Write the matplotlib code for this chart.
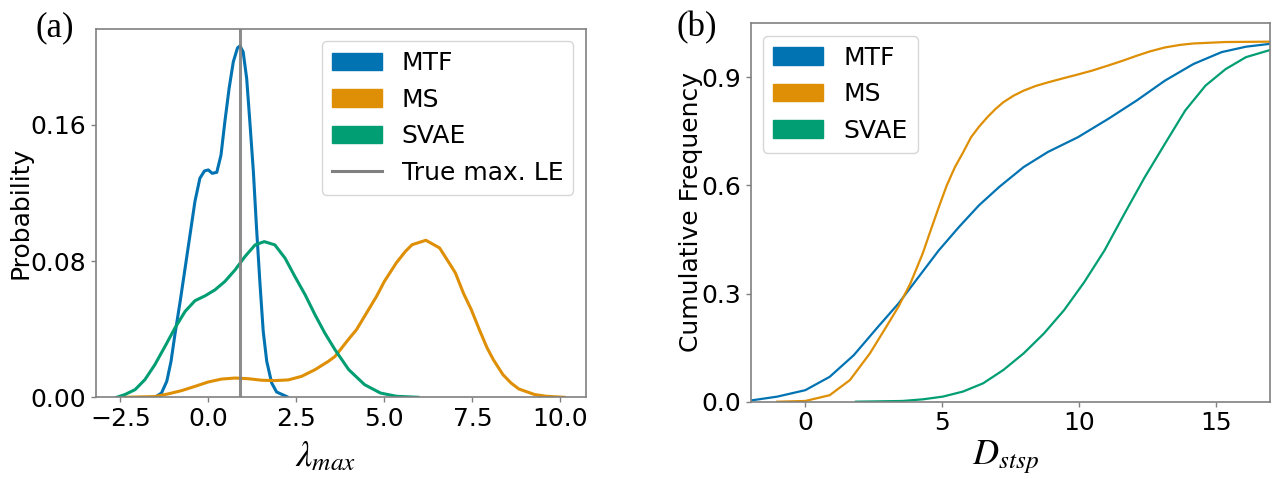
import numpy as np
import matplotlib
matplotlib.use('Agg')
import matplotlib.pyplot as plt
from matplotlib.patches import Patch
from matplotlib.lines import Line2D

plt.rcParams['font.family'] = 'DejaVu Sans'
plt.rcParams['mathtext.fontset'] = 'stix'

methods = ['MTF', 'MS', 'SVAE']
colors = ['#0173b2', '#de8f05', '#029e73']
true_le = 0.9

# (a) density of the estimated max. Lyapunov exponent
mtf_x = [-1.515, -1.33, -1.18, -1.06, -0.95, -0.80, -0.66, -0.52, -0.38, -0.24, -0.11,
         0.0, 0.11, 0.24, 0.36, 0.47, 0.59, 0.71, 0.83, 0.90, 0.99, 1.09, 1.18, 1.28,
         1.37, 1.47, 1.56, 1.66, 1.80, 1.94, 2.23]
mtf_p = [0.0, 0.0025, 0.0094, 0.021, 0.0367, 0.0563, 0.0758, 0.0954, 0.115, 0.1286,
         0.1329, 0.1335, 0.1315, 0.1321, 0.1422, 0.1618, 0.1813, 0.197, 0.2052, 0.2063,
         0.2028, 0.1872, 0.1618, 0.1325, 0.0993, 0.066, 0.0387, 0.0211, 0.0084, 0.0031,
         0.0004]

ms_x = [-2.4, -1.52, -1.14, -0.76, -0.38, 0.0, 0.38, 0.76, 1.14, 1.52, 1.89, 2.27,
        2.65, 3.03, 3.41, 3.60, 4.0, 4.21, 4.78, 5.0, 5.34, 5.6, 5.79, 6.18, 6.57, 6.9,
        7.02, 7.25, 7.47, 7.7, 7.92, 8.1, 8.37, 8.6, 8.82, 9.27, 9.6, 10.11]
ms_p = [0.0, 0.0004, 0.002, 0.0039, 0.0064, 0.009, 0.0107, 0.0113, 0.0109, 0.0100,
        0.0098, 0.0102, 0.0123, 0.0162, 0.0211, 0.024, 0.0345, 0.0397, 0.0593, 0.068,
        0.0789, 0.0857, 0.0896, 0.0922, 0.0877, 0.077, 0.073, 0.061, 0.0515, 0.0397,
        0.029, 0.022, 0.0133, 0.0084, 0.0049, 0.0016, 0.0006, 0.0]

svae_x = [-2.60, -2.37, -2.08, -1.80, -1.52, -1.23, -0.95, -0.66, -0.38, -0.09, 0.19,
          0.47, 0.76, 1.04, 1.33, 1.59, 1.89, 2.18, 2.46, 2.75, 3.03, 3.31, 3.60, 3.99,
          4.44, 4.89, 5.34, 5.96]
svae_p = [0.0, 0.0016, 0.0045, 0.0104, 0.0191, 0.0299, 0.0406, 0.0504, 0.0567, 0.0596,
          0.0631, 0.068, 0.0748, 0.0826, 0.0895, 0.0914, 0.0895, 0.0817, 0.0709, 0.0602,
          0.0485, 0.0377, 0.0279, 0.0162, 0.0074, 0.0025, 0.0006, 0.0]

# (b) cumulative frequency of D_stsp
mtf_d = [-2.3, -1.03, 0.0, 0.89, 1.77, 2.66, 3.4, 4.14, 4.88, 5.62, 6.35, 7.09, 7.98,
         8.87, 9.97, 11.08, 12.12, 13.15, 14.19, 15.22, 16.11, 17.0]
mtf_c = [0.0, 0.014, 0.032, 0.069, 0.129, 0.208, 0.272, 0.346, 0.42, 0.485, 0.545,
         0.596, 0.651, 0.693, 0.734, 0.785, 0.836, 0.891, 0.937, 0.970, 0.985, 0.993]

ms_d = [-1.03, 0.0, 0.89, 1.63, 2.36, 2.96, 3.4, 3.84, 4.29, 4.58, 4.88, 5.17, 5.47,
        5.77, 6.06, 6.35, 6.65, 6.95, 7.24, 7.61, 7.98, 8.42, 8.87, 9.46, 9.97, 10.5,
        11.08, 11.6, 12.12, 12.6, 13.15, 13.7, 14.19, 15.37, 17.0]
ms_c = [0.0, 0.002, 0.018, 0.06, 0.134, 0.208, 0.263, 0.328, 0.411, 0.475, 0.54, 0.60,
        0.651, 0.692, 0.734, 0.763, 0.789, 0.812, 0.831, 0.849, 0.863, 0.876, 0.886,
        0.898, 0.908, 0.919, 0.933, 0.946, 0.960, 0.972, 0.983, 0.99, 0.994, 0.998, 0.999]

svae_d = [1.85, 3.55, 4.29, 5.02, 5.76, 6.50, 7.24, 7.98, 8.72, 9.46, 10.2, 10.94,
          11.67, 12.41, 13.15, 13.89, 14.63, 15.37, 16.11, 17.0]
svae_c = [0.0, 0.002, 0.0065, 0.014, 0.028, 0.051, 0.088, 0.134, 0.189, 0.254, 0.332,
          0.42, 0.522, 0.623, 0.716, 0.808, 0.877, 0.923, 0.956, 0.976]

fs = 18
fig = plt.figure(figsize=(12.74, 4.79), dpi=100)
ax1 = fig.add_axes([0.0751, 0.1706, 0.3846, 0.769])
ax2 = fig.add_axes([0.5892, 0.1614, 0.4079, 0.790])

for ax in (ax1, ax2):
    for s in ax.spines.values():
        s.set_color('#808080')
        s.set_linewidth(1.2)
    ax.tick_params(labelsize=fs, color='#808080', length=3.5, width=1.0)

# left panel
for xs, ps, c in zip([mtf_x, ms_x, svae_x], [mtf_p, ms_p, svae_p], colors):
    ax1.plot(xs, ps, color=c, lw=2.2)
ax1.axvline(true_le, color='grey', lw=2.2, alpha=0.9)
ax1.set_ylim(0, 0.2163)
ax1.set_xlim(-3.2, 10.72)
ax1.set_yticks([0.0, 0.08, 0.16])
ax1.set_yticklabels(['0.00', '0.08', '0.16'])
ax1.set_xticks([-2.5, 0.0, 2.5, 5.0, 7.5, 10.0])
ax1.set_ylabel('Probability', fontsize=fs)
ax1.yaxis.set_label_coords(-0.128, 0.5)
ax1.set_xlabel(r'$\lambda_{max}$', fontsize=26)
ax1.xaxis.set_label_coords(0.47, -0.115)
handles = [Patch(color=c, label=m) for m, c in zip(methods, colors)]
handles.append(Line2D([], [], color='grey', lw=2.2, label='True max. LE'))
ax1.legend(handles=handles, loc='upper right', fontsize=fs)

# right panel
for xs, cs, c in zip([mtf_d, ms_d, svae_d], [mtf_c, ms_c, svae_c], colors):
    ax2.plot(xs, cs, color=c, lw=1.6)
ax2.set_xlim(-2, 17)
ax2.set_ylim(0, 1.05)
ax2.set_yticks([0.0, 0.3, 0.6, 0.9])
ax2.set_xticks([0, 5, 10, 15])
ax2.set_ylabel('Cumulative Frequency', fontsize=fs)
ax2.yaxis.set_label_coords(-0.092, 0.5)
ax2.set_xlabel(r'$D_{stsp}$', fontsize=26)
ax2.xaxis.set_label_coords(0.49, -0.095)
ax2.legend(handles=[Patch(color=c, label=m) for m, c in zip(methods, colors)],
           loc='upper left', fontsize=fs)

fig.text(55 / 1274, 1 - 28 / 479, '(a)', family='Liberation Serif', fontsize=25,
         ha='center', va='center')
fig.text(697 / 1274, 1 - 28 / 479, '(b)', family='Liberation Serif', fontsize=25,
         ha='center', va='center')

fig.savefig('out.png', dpi=100)
